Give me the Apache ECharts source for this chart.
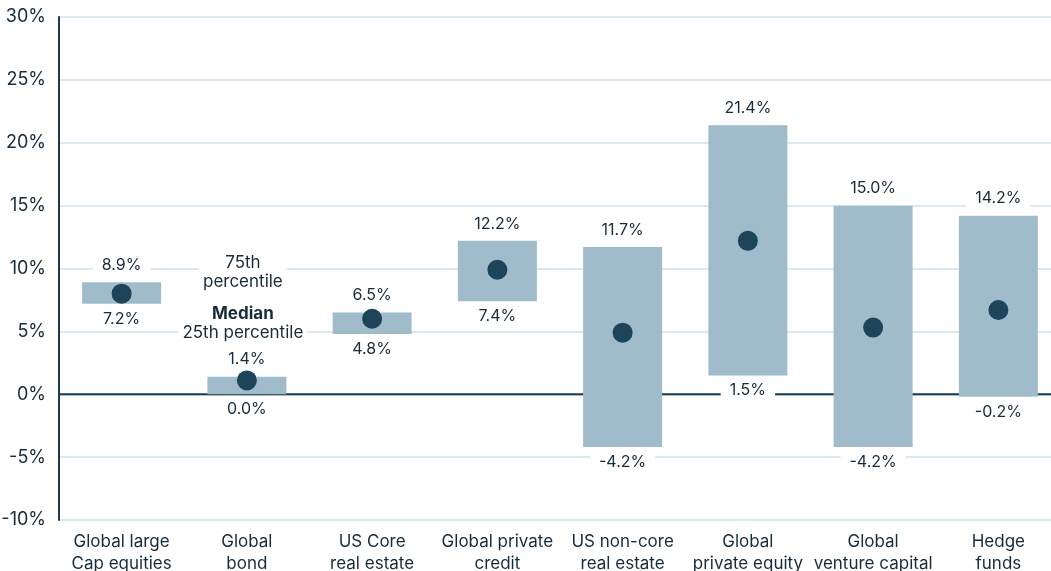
<!DOCTYPE html>
<html>
<head>
<meta charset="utf-8">
<script src="https://cdn.jsdelivr.net/npm/echarts@6/dist/echarts.min.js"></script>
<style>html,body{margin:0;padding:0;background:#fff;}#c{width:1051px;height:571px;}</style>
</head>
<body>
<div id="c"></div>
<script>
var categories = ['Global large\nCap equities', 'Global\nbond', 'US Core\nreal estate', 'Global private\ncredit', 'US non-core\nreal estate', 'Global\nprivate equity', 'Global\nventure capital', 'Hedge\nfunds'];
var p75 = [8.9, 1.4, 6.5, 12.2, 11.7, 21.4, 15.0, 14.2];
var p25 = [7.2, 0.0, 4.8, 7.4, -4.2, 1.5, -4.2, -0.2];
var median = [8.0, 1.1, 6.0, 9.9, 4.9, 12.2, 5.3, 6.7];
var yTicks = [-10, -5, 0, 5, 10, 15, 20, 25, 30];
var keyTexts = ['75th\npercentile', 'Median', '25th percentile'];
var keyValues = [9.7, 6.4, 4.9];

var textColor = '#172b38';
var barColor = '#a0bccb';
var dotColor = '#1d4459';
var fontFamily = 'Inter, "Noto Sans", sans-serif';

var chart = echarts.init(document.getElementById('c'));
var rangeData = categories.map(function (c, i) { return [i, p25[i], p75[i], median[i]]; });

chart.setOption({
  animation: false,
  grid: { left: 59, width: 1002, top: 17, height: 503, outerBoundsMode: 'none', containLabel: false },
  xAxis: {
    type: 'category',
    data: categories,
    axisLine: { show: false },
    axisTick: { show: false },
    axisLabel: { color: textColor, fontSize: 17, fontFamily: fontFamily, lineHeight: 22, margin: 11, interval: 0 }
  },
  yAxis: {
    type: 'value',
    min: yTicks[0],
    max: yTicks[yTicks.length - 1],
    interval: 5,
    axisLine: { show: true, onZero: false, lineStyle: { color: '#1d3a4d', width: 2 } },
    axisTick: { show: false },
    axisLabel: { color: textColor, fontSize: 18, fontFamily: fontFamily, margin: 13, formatter: '{value}%' },
    splitLine: { show: true, lineStyle: { color: '#cfe0ea', width: 1.5 } }
  },
  series: [
    {
      type: 'custom',
      data: rangeData,
      z: 3,
      encode: { x: 0, y: [1, 2] },
      renderItem: function (params, api) {
        var i = api.value(0);
        var lo = api.coord([i, api.value(1)]);
        var hi = api.coord([i, api.value(2)]);
        var md = api.coord([i, api.value(3)]);
        var w = 79;
        var x = lo[0] - w / 2;
        var labelStyle = function (txt, y) {
          return {
            type: 'text',
            style: {
              text: txt, x: lo[0], y: y, align: 'center', verticalAlign: 'middle',
              fill: textColor, font: '16px ' + fontFamily,
              backgroundColor: '#fff', padding: [2, 9]
            },
            z2: 5
          };
        };
        return {
          type: 'group',
          children: [
            { type: 'rect', shape: { x: x, y: hi[1], width: w, height: lo[1] - hi[1] }, style: { fill: barColor }, z2: 1 },
            { type: 'circle', shape: { cx: md[0], cy: md[1], r: 10 }, style: { fill: dotColor }, z2: 3 },
            labelStyle(api.value(2).toFixed(1) + '%', hi[1] - 17),
            labelStyle(api.value(1).toFixed(1) + '%', lo[1] + 15)
          ]
        };
      }
    },
    {
      type: 'custom',
      z: 2,
      data: [[0, 0]],
      renderItem: function (params, api) {
        var a = api.coord([0, 0]);
        var left = params.coordSys.x;
        var right = params.coordSys.x + params.coordSys.width;
        return { type: 'line', shape: { x1: left, y1: a[1], x2: right, y2: a[1] }, style: { stroke: '#1d3a4d', lineWidth: 2 } };
      }
    },
    {
      type: 'custom',
      z: 4,
      data: keyTexts.map(function (t, k) { return [1, keyValues[k], k]; }),
      renderItem: function (params, api) {
        var p = api.coord([api.value(0), api.value(1)]);
        var k = api.value(2);
        return {
          type: 'text',
          style: {
            text: keyTexts[k], x: p[0] - 4, y: p[1], align: 'center', verticalAlign: 'middle',
            fill: textColor, font: (k === 1 ? 'bold ' : '') + '17px ' + fontFamily,
            lineHeight: 19, backgroundColor: '#fff', padding: [0, 4]
          }
        };
      }
    }
  ]
});
</script>
</body>
</html>
